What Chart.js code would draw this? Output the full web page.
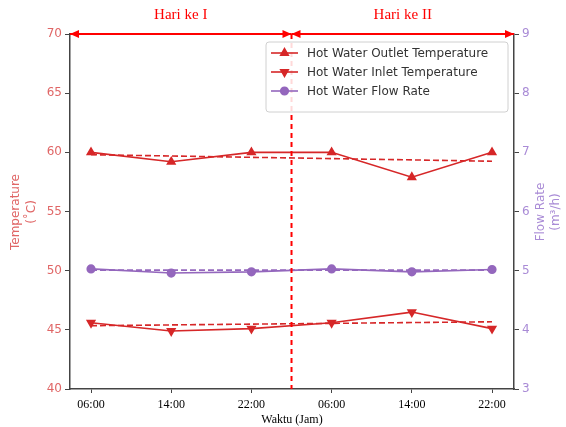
<!DOCTYPE html>
<html>
<head>
<meta charset="utf-8">
<script src="https://cdn.jsdelivr.net/npm/chart.js@4.4.1/dist/chart.umd.min.js"></script>
<style>
  html, body { margin: 0; padding: 0; background: #fff; }
  #wrap { width: 566px; height: 427px; position: relative; }
</style>
</head>
<body>
<div id="wrap"><canvas id="chart" width="566" height="427"></canvas></div>
<script>
// data
const timeLabels = ["06:00", "14:00", "22:00", "06:00", "14:00", "22:00"];
const outletTemp = [60.0, 59.2, 60.0, 60.0, 57.9, 60.0];
const inletTemp = [45.6, 44.9, 45.1, 45.6, 46.5, 45.1];
const flowRate = [5.03, 4.96, 4.98, 5.03, 4.98, 5.02];
// dashed trend lines (value at first and last point)
const outletTrend = [59.8, 59.25];
const inletTrend = [45.35, 45.68];
const flowTrend = [5.01, 5.01];
const dayLabels = ["Hari ke I", "Hari ke II"];
const dayBoundary = 2.5;

const RED = "#d62728";
const PURPLE = "#9467bd";

function pts(arr) {
    return arr.map((v, i) => ({ x: i, y: v }));
}
function trend(arr) {
    return [{ x: 0, y: arr[0] }, { x: timeLabels.length - 1, y: arr[1] }];
}

const datasets = [
    {
        label: "Hot Water Outlet Temperature", data: pts(outletTemp), yAxisID: "yT",
        borderColor: RED, backgroundColor: RED, borderWidth: 1.6,
        pointStyle: "triangle", pointRadius: 4.3, pointRotation: 0
    },
    {
        label: "Hot Water Inlet Temperature", data: pts(inletTemp), yAxisID: "yT",
        borderColor: RED, backgroundColor: RED, borderWidth: 1.6,
        pointStyle: "triangle", pointRadius: 4.3, pointRotation: 180
    },
    {
        label: "Hot Water Flow Rate", data: pts(flowRate), yAxisID: "yF",
        borderColor: PURPLE, backgroundColor: PURPLE, borderWidth: 1.6,
        pointStyle: "circle", pointRadius: 3.8
    },
    { label: "_t1", data: trend(outletTrend), yAxisID: "yT", borderColor: RED, borderWidth: 1.6, borderDash: [6, 3], pointRadius: 0 },
    { label: "_t2", data: trend(inletTrend), yAxisID: "yT", borderColor: RED, borderWidth: 1.6, borderDash: [6, 3], pointRadius: 0 },
    { label: "_t3", data: trend(flowTrend), yAxisID: "yF", borderColor: PURPLE, borderWidth: 1.6, borderDash: [6, 3], pointRadius: 0 }
];

function arrow(ctx, x1, x2, y) {
    // line with arrowheads on both ends
    ctx.beginPath();
    ctx.moveTo(x1, y);
    ctx.lineTo(x2, y);
    ctx.stroke();
    [[x1, 1], [x2, -1]].forEach(([x, d]) => {
        ctx.beginPath();
        ctx.moveTo(x, y);
        ctx.lineTo(x + d * 9, y - 4);
        ctx.lineTo(x + d * 9, y + 4);
        ctx.closePath();
        ctx.fill();
    });
}

const overlay = {
    id: "overlay",
    afterDatasetsDraw(chart) {
        const { ctx, chartArea, scales } = chart;
        const xb = scales.x.getPixelForValue(dayBoundary);
        const yTop = scales.yT.getPixelForValue(70);
        ctx.save();
        // day separator
        ctx.strokeStyle = "#ff0000";
        ctx.fillStyle = "#ff0000";
        ctx.lineWidth = 2;
        ctx.setLineDash([5, 4]);
        ctx.beginPath();
        ctx.moveTo(xb, yTop);
        ctx.lineTo(xb, chartArea.bottom);
        ctx.stroke();
        ctx.setLineDash([]);
        arrow(ctx, chartArea.left, xb, yTop);
        arrow(ctx, xb, chartArea.right, yTop);
        ctx.font = "15px 'Liberation Serif'";
        ctx.textAlign = "center";
        ctx.textBaseline = "middle";
        ctx.fillText(dayLabels[0], (chartArea.left + xb) / 2, 15);
        ctx.fillText(dayLabels[1], (chartArea.right + xb) / 2, 15);

        // legend
        const lx = 266, ly = 42, lw = 242, lh = 70;
        ctx.fillStyle = "rgba(255,255,255,0.85)";
        ctx.strokeStyle = "#d0d0d0";
        ctx.lineWidth = 1;
        ctx.beginPath();
        ctx.roundRect(lx, ly, lw, lh, 3);
        ctx.fill();
        ctx.stroke();
        ctx.font = "12px 'DejaVu Sans'";
        ctx.textAlign = "left";
        for (let i = 0; i < 3; i++) {
            const ds = datasets[i];
            const y = ly + 11 + i * 19;
            ctx.strokeStyle = ds.borderColor;
            ctx.fillStyle = ds.borderColor;
            ctx.lineWidth = 1.6;
            ctx.beginPath();
            ctx.moveTo(lx + 5, y);
            ctx.lineTo(lx + 32, y);
            ctx.stroke();
            Chart.helpers.drawPoint(ctx, {
                pointStyle: ds.pointStyle, radius: ds.pointRadius,
                rotation: ds.pointRotation || 0, borderWidth: 1
            }, lx + 18.5, y);
            ctx.fillStyle = "#333";
            ctx.fillText(ds.label, lx + 41, y + 1);
        }

        // axis titles
        ctx.textAlign = "center";
        ctx.font = "12px 'DejaVu Sans'";
        ctx.fillStyle = "#e06666";
        ctx.save();
        ctx.translate(16, 212);
        ctx.rotate(-Math.PI / 2);
        ctx.fillText("Temperature", 0, 0);
        ctx.fillText("(\u02DAC)", 0, 16);
        ctx.restore();
        ctx.fillStyle = "#a98bd6";
        ctx.save();
        ctx.translate(541, 212);
        ctx.rotate(-Math.PI / 2);
        ctx.fillText("Flow Rate", 0, 0);
        ctx.fillText("(m\u00B3/h)", 0, 15);
        ctx.restore();
        ctx.fillStyle = "#000";
        ctx.font = "12px 'Liberation Serif'";
        ctx.fillText("Waktu (Jam)", (chartArea.left + chartArea.right) / 2, 420);
        ctx.restore();
    }
};

new Chart(document.getElementById("chart").getContext("2d"), {
    type: "line",
    data: { datasets: datasets },
    options: {
        responsive: false,
        animation: false,
        layout: { padding: { top: 34, left: 0, right: 0, bottom: 0 } },
        plugins: { legend: { display: false }, tooltip: { enabled: false } },
        scales: {
            x: {
                type: "linear", min: -0.262, max: 5.274,
                afterBuildTicks: s => { s.ticks = timeLabels.map((t, i) => ({ value: i })); },
                afterFit: s => { s.height = 38; },
                ticks: {
                    callback: v => timeLabels[v], color: "#000", padding: 5,
                    font: { family: "'Liberation Serif'", size: 12 }, maxRotation: 0
                },
                grid: { drawOnChartArea: false, tickLength: 4, color: "#444" },
                border: { color: "#444", width: 1.5 }
            },
            yT: {
                position: "left", min: 40, max: 70,
                afterFit: s => { s.width = 70; },
                ticks: { stepSize: 5, color: "#e06666", padding: 3, font: { family: "'DejaVu Sans'", size: 12 } },
                grid: { drawOnChartArea: false, tickLength: 5, color: "#444" },
                border: { color: "#444", width: 1.5 }
            },
            yF: {
                position: "right", min: 3, max: 9,
                afterFit: s => { s.width = 52; },
                ticks: { stepSize: 1, color: "#a98bd6", padding: 3, font: { family: "'DejaVu Sans'", size: 12 } },
                grid: { drawOnChartArea: false, tickLength: 5, color: "#444" },
                border: { color: "#444", width: 1.5 }
            }
        }
    },
    plugins: [overlay]
});
</script>
</body>
</html>
